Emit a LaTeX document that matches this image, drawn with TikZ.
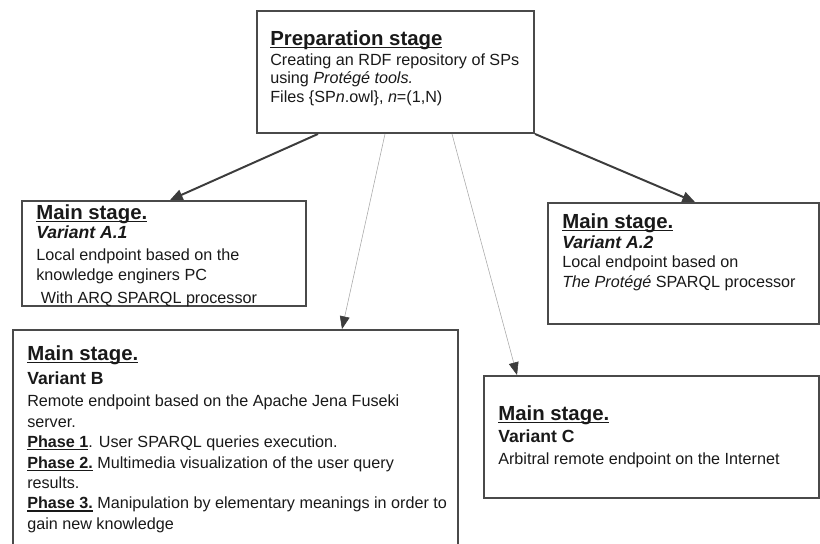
\documentclass[tikz,border=0pt]{standalone}
\usepackage{fontspec}
\setmainfont{Liberation Sans}
\usepackage{xcolor}
\usetikzlibrary{positioning,arrows.meta}

\definecolor{boxgray}{HTML}{4A4A4A}
\definecolor{linegray}{HTML}{3C3C3C}
\definecolor{thingray}{HTML}{A8A8A8}

\newcommand{\stageul}[1]{\setbox0\hbox{#1}\rlap{\rule[-2pt]{\wd0}{0.9pt}}\box0\relax}
\newcommand{\stagehead}[1]{{\fontsize{14.5}{17}\selectfont\bfseries\stageul{#1}}}
\newcommand{\variant}[1]{{\fontsize{12.5}{15}\selectfont\bfseries #1}}

\tikzset{
	stagebox/.style={draw=boxgray, line width=1.4pt, anchor=north west, inner sep=0pt},
	stagetext/.style={anchor=north west, inner sep=0pt, align=left, text=black!90, font=\fontsize{11.5}{14.2}\selectfont},
	mainarrow/.style={draw=linegray, line width=1.4pt, -{Triangle[length=9pt,width=7.5pt]}},
	sidearrow/.style={draw=thingray, line width=0.4pt, -{Triangle[length=9pt,width=7pt,color=linegray]}}
}

\begin{document}
\begin{tikzpicture}
		\useasboundingbox (0,0) rectangle (20.5,-13.6);
		
		\node[stagebox, minimum width=6.925cm, minimum height=3.05cm] (prep) at (6.4,-0.25) {};
		\node[stagebox, minimum width=7.1cm, minimum height=2.625cm] (a1) at (0.525,-5.0) {};
		\node[stagebox, minimum width=6.775cm, minimum height=3.025cm] (a2) at (13.675,-5.05) {};
		\node[stagebox, minimum width=11.125cm, minimum height=6cm] (b) at (0.3,-8.225) {};
		\node[stagebox, minimum width=8.375cm, minimum height=3.05cm] (c) at (12.075,-9.375) {};
		
		\node[stagetext, font=\fontsize{11.5}{13.5}\selectfont] (prept) at ([shift={(0.35,-0.5)}]prep.north west) {\stagehead{Preparation stage}\\[0.7pt]
			Creating an RDF repository of SPs\\
			using \textit{Protégé tools.}\\
			Files \{SP\textit{n}.owl\}, \textit{n}=(1,N)};
		\node[stagetext, font=\fontsize{11.5}{13.5}\selectfont] (a1t) at ([shift={(0.375,-0.1)}]a1.north west) {\stagehead{Main stage.}\\[0.5pt]
			\variant{\itshape Variant A.1}\\[1.8pt]
			Local endpoint based on the\\[0.8pt]
			knowledge enginers PC\\[3pt]
			\ With ARQ SPARQL processor};
		\node[stagetext] (a2t) at ([shift={(0.375,-0.275)}]a2.north west) {\stagehead{Main stage.}\\
			\variant{\itshape Variant A.2}\\
			Local endpoint based on\\
			\textit{The Protégé} SPARQL processor};
		\node[stagetext, font=\fontsize{11.5}{14.5}\selectfont] (bt) at ([shift={(0.375,-0.4)}]b.north west) {\stagehead{Main stage.}\\[3.2pt]
			\variant{Variant B}\\[1.1pt]
			Remote endpoint based on the Apache Jena Fuseki\\
			server.\\
			\stageul{\bfseries Phase 1}. User SPARQL queries execution.\\
			\stageul{\bfseries Phase 2.} Multimedia visualization of the user query\\
			results.\\
			\stageul{\bfseries Phase 3.} Manipulation by elementary meanings in order to\\
			gain new knowledge};
		\node[stagetext] (ct) at ([shift={(0.375,-0.75)}]c.north west) {\stagehead{Main stage.}\\[2.1pt]
			\variant{Variant C}\\[1.4pt]
			Arbitral remote endpoint on the Internet};
		
		\draw[mainarrow] ([shift={(1.55,0)}]prep.south west) -- ([shift={(3.725,0)}]a1.north west);
		\draw[sidearrow] ([shift={(3.225,0)}]prep.south west) -- ([shift={(8.25,0)}]b.north west);
		\draw[sidearrow] ([shift={(4.9,0)}]prep.south west) -- ([shift={(0.85,0)}]c.north west);
		\draw[mainarrow] ([shift={(6.975,0)}]prep.south west) -- ([shift={(3.7,0)}]a2.north west);
\end{tikzpicture}
\end{document}
